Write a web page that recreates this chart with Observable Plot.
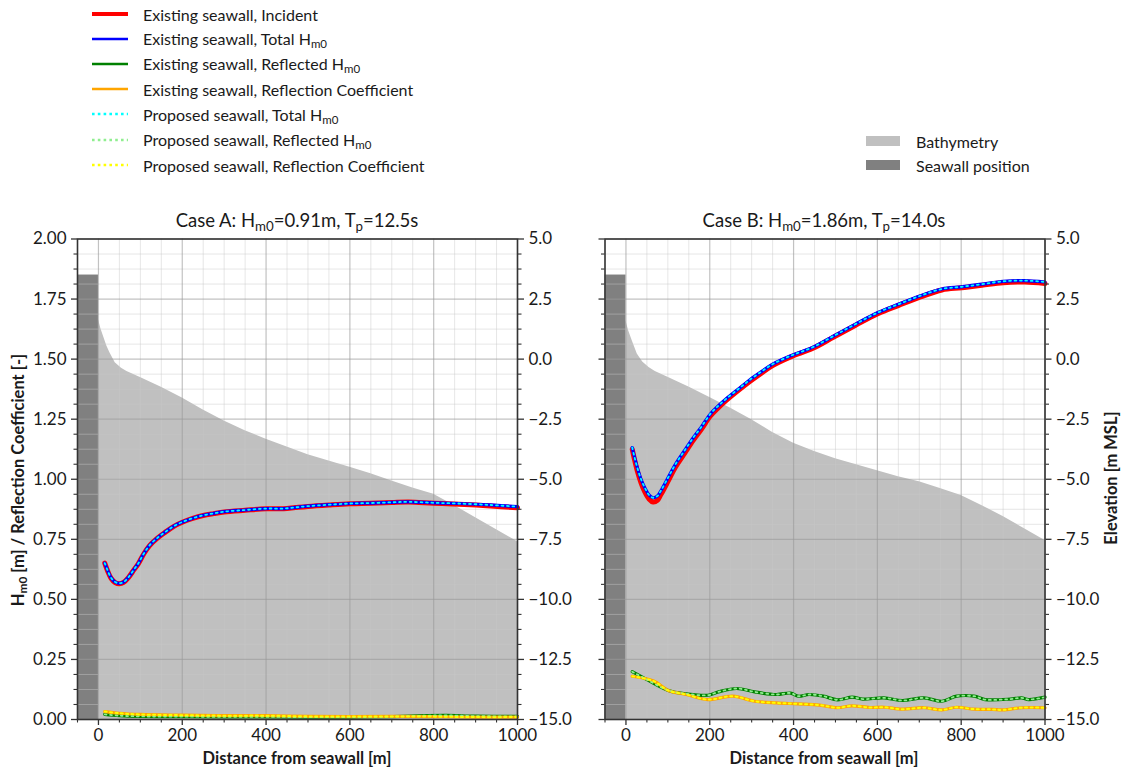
<!DOCTYPE html>
<html><head><meta charset="utf-8">
<script src="https://cdn.jsdelivr.net/npm/d3@7"></script>
<script src="https://cdn.jsdelivr.net/npm/@observablehq/plot@0.6"></script>
<style>
body{margin:0;background:#fff;font-family:Lato,"Noto Sans",sans-serif;color:#1a1a1a}
#root{position:relative;width:1125px;height:773px;overflow:hidden;background:#fff}
.abs{position:absolute;white-space:nowrap}
.sub{font-size:0.72em;vertical-align:-0.28em;line-height:0}
.leg{position:absolute;display:flex;align-items:center;font-size:16px;height:20px;white-space:nowrap}
.title{font-size:18.5px;transform:translate(-50%,-50%)}
.xlab{font-size:16.5px;font-weight:bold;transform:translate(-50%,-50%)}
.ylab{font-size:16.5px;font-weight:bold;transform:translate(-50%,-50%) rotate(-90deg)}
svg{overflow:visible}
</style></head>
<body><div id="root"></div>
<script>
// ---------------- data ----------------
const xDomain = [-50, 1000];
const hDomain = [0, 2];
const elevDomain = [-15, 5];
const xTicks = [0, 200, 400, 600, 800, 1000];
const hTicks = [0, 0.25, 0.5, 0.75, 1.0, 1.25, 1.5, 1.75, 2.0];
const elevTicks = [-15, -12.5, -10, -7.5, -5, -2.5, 0, 2.5, 5];

const seawall = [{from: -50, to: 0, base: -15, top: 3.5}];

const bathyA = [[0,1.65],[6,1.25],[13,0.9],[20,0.55],[27,0.28],[40,-0.15],[55,-0.38],[68,-0.51],[100,-0.76],[150,-1.17],[200,-1.62],[250,-2.12],[300,-2.58],[350,-2.98],[400,-3.33],[450,-3.66],[500,-3.98],[550,-4.24],[600,-4.5],[650,-4.77],[700,-5.07],[750,-5.36],[800,-5.62],[850,-6.1],[900,-6.6],[950,-7.1],[1000,-7.6]];
const bathyB = [[0,1.6],[6,1.2],[15,0.76],[27,0.21],[40,-0.12],[55,-0.35],[70,-0.51],[100,-0.75],[150,-1.16],[200,-1.6],[250,-2.04],[300,-2.52],[350,-3.05],[400,-3.5],[450,-3.85],[500,-4.15],[550,-4.4],[600,-4.65],[650,-4.9],[700,-5.1],[750,-5.38],[800,-5.68],[850,-6.1],[900,-6.55],[950,-7.05],[1000,-7.55]];

const incidentA = [[15,0.651],[22,0.618],[30,0.588],[40,0.57],[50,0.565],[60,0.571],[72,0.592],[85,0.624],[95,0.648],[108,0.689],[122,0.724],[140,0.754],[159,0.779],[180,0.804],[200,0.821],[225,0.837],[250,0.849],[275,0.857],[300,0.864],[350,0.871],[400,0.877],[442,0.877],[470,0.882],[500,0.887],[550,0.893],[600,0.898],[650,0.9],[700,0.903],[740,0.905],[800,0.9],[860,0.896],[935,0.889],[1000,0.881]];
const totalA = [[15,0.651],[22,0.62],[30,0.59],[40,0.572],[50,0.567],[60,0.572],[72,0.593],[85,0.625],[95,0.649],[108,0.69],[122,0.725],[140,0.755],[159,0.78],[180,0.805],[200,0.822],[225,0.838],[250,0.85],[275,0.858],[300,0.865],[350,0.872],[400,0.878],[442,0.878],[470,0.883],[500,0.888],[550,0.894],[600,0.899],[650,0.901],[700,0.904],[740,0.906],[800,0.902],[860,0.899],[935,0.893],[1000,0.886]];
const reflectedA = [[15,0.021],[50,0.016],[100,0.013],[200,0.012],[300,0.011],[400,0.011],[500,0.01],[600,0.01],[700,0.012],[780,0.016],[830,0.017],[900,0.014],[1000,0.013]];
const coefA = [[15,0.033],[50,0.026],[100,0.021],[200,0.018],[300,0.016],[400,0.016],[500,0.013],[600,0.012],[700,0.013],[800,0.012],[900,0.01],[1000,0.01]];
const pTotalA = totalA;
const pReflectedA = reflectedA;
const pCoefA = coefA;

const incidentB = [[15,1.125],[20,1.085],[27,1.035],[36,0.985],[45,0.947],[55,0.918],[65,0.905],[75,0.912],[83,0.935],[100,0.99],[118,1.05],[140,1.108],[161,1.163],[180,1.208],[201,1.262],[220,1.297],[238,1.326],[270,1.372],[298,1.41],[325,1.444],[350,1.473],[393,1.509],[445,1.544],[496,1.592],[548,1.641],[601,1.689],[651,1.724],[703,1.759],[754,1.788],[801,1.797],[849,1.807],[900,1.818],[952,1.821],[1000,1.815]];
const totalB = [[15,1.132],[20,1.095],[27,1.049],[36,1.0],[45,0.965],[55,0.935],[65,0.923],[75,0.93],[83,0.951],[100,1.005],[118,1.062],[140,1.12],[161,1.174],[180,1.218],[201,1.271],[220,1.305],[238,1.333],[270,1.378],[298,1.417],[325,1.45],[350,1.479],[393,1.514],[445,1.549],[496,1.597],[548,1.646],[601,1.694],[651,1.729],[703,1.764],[754,1.792],[801,1.801],[849,1.812],[900,1.824],[952,1.827],[1000,1.821]];
const reflectedB = [[15,0.199],[49,0.167],[101,0.121],[144,0.107],[195,0.101],[221,0.115],[264,0.129],[307,0.115],[359,0.104],[393,0.11],[411,0.097],[437,0.104],[471,0.097],[505,0.082],[540,0.093],[565,0.085],[616,0.09],[660,0.079],[711,0.09],[754,0.076],[789,0.097],[831,0.097],[857,0.083],[917,0.085],[944,0.09],[961,0.083],[1000,0.093]];
const coefB = [[15,0.18],[66,0.16],[101,0.121],[144,0.104],[195,0.083],[255,0.097],[307,0.076],[359,0.069],[410,0.065],[462,0.06],[505,0.049],[539,0.057],[582,0.05],[616,0.051],[660,0.043],[711,0.049],[754,0.04],[789,0.051],[831,0.043],[874,0.042],[900,0.04],[944,0.049],[1000,0.049]];
const pTotalB = totalB;
const pReflectedB = reflectedB;
const pCoefB = coefB;

const seriesKeys = ["incident","total","reflected","coef","pTotal","pReflected","pCoef"];
const seriesNames = ["Existing seawall, Incident","Existing seawall, Total H_m0","Existing seawall, Reflected H_m0","Existing seawall, Reflection Coefficient","Proposed seawall, Total H_m0","Proposed seawall, Reflected H_m0","Proposed seawall, Reflection Coefficient"];
const areaNames = ["Bathymetry","Seawall position"];

// ---------------- styles ----------------
const styles = {
  incident:{stroke:"#ff0000",strokeWidth:5},
  total:{stroke:"#0000ff",strokeWidth:3.2},
  reflected:{stroke:"#008000",strokeWidth:3.2},
  coef:{stroke:"#ffa500",strokeWidth:3.2},
  pTotal:{stroke:"#00ffff",strokeWidth:1.8,strokeDasharray:"1.8,3.6"},
  pReflected:{stroke:"#90ee90",strokeWidth:1.8,strokeDasharray:"1.8,3.6"},
  pCoef:{stroke:"#ffff00",strokeWidth:2,strokeDasharray:"2,3.4"}
};
const bathyColor = "#c0c0c0", wallColor = "#808080", spine = "#333";

const rich = s => s.replace(/_(\w+)/g, '<span class="sub">$1</span>');
const toH = e => (e - elevDomain[0]) / (elevDomain[1] - elevDomain[0]) * (hDomain[1] - hDomain[0]) + hDomain[0];
const toElev = h => (h - hDomain[0]) / (hDomain[1] - hDomain[0]) * (elevDomain[1] - elevDomain[0]) + elevDomain[0];
const fmt1 = d3.format(".1f"), fmt2 = d3.format(".2f");
const pts = arr => arr.map(([x, y]) => ({x, y}));

const minorX = d3.range(xDomain[0], xDomain[1] + 1, 50).filter(v => !xTicks.includes(v));
const minorH = d3.range(hDomain[0], hDomain[1] + 1e-9, 0.0625).filter(v => Math.abs(v / 0.25 - Math.round(v / 0.25)) > 1e-6);
const minorElev = d3.range(elevDomain[0], elevDomain[1] + 1e-9, 0.625).filter(v => Math.abs(v / 2.5 - Math.round(v / 2.5)) > 1e-6);

function panel(cfg) {
  const lineMarks = seriesKeys.map(k => Plot.line(pts(cfg.series[k]), {x: "x", y: "y", curve: "catmull-rom", ...styles[k]}));
  return Plot.plot({
    width: cfg.width, height: 573,
    marginLeft: cfg.ml, marginRight: cfg.mr, marginTop: 38.5, marginBottom: 54,
    x: {domain: xDomain}, y: {domain: hDomain},
    style: {fontFamily: "Lato, 'Noto Sans', sans-serif", fontSize: "17px", color: "#1a1a1a", background: "transparent"},
    marks: [
      Plot.areaY(pts(cfg.bathy), {x: "x", y: d => toH(d.y), fill: bathyColor}),
      Plot.rect(seawall, {x1: "from", x2: "to", y1: d => toH(d.base), y2: d => toH(d.top), fill: wallColor}),
      Plot.gridX(minorX, {stroke: "#c8c8c8", strokeOpacity: 0.45, strokeWidth: 1}),
      Plot.gridY(minorH, {stroke: "#c8c8c8", strokeOpacity: 0.45, strokeWidth: 1}),
      Plot.gridX(xTicks, {stroke: "#9a9a9a", strokeOpacity: 0.6, strokeWidth: 1.2}),
      Plot.gridY(hTicks, {stroke: "#9a9a9a", strokeOpacity: 0.6, strokeWidth: 1.2}),
      ...lineMarks,
      Plot.frame({stroke: spine, strokeWidth: 1.6}),
      Plot.axisX(xTicks, {anchor: "bottom", tickSize: 6, tickPadding: 3, tickFormat: d3.format("d"), label: null, stroke: spine, strokeWidth: 1.3}),
      Plot.axisX(minorX, {anchor: "bottom", tickSize: 3.5, tickFormat: () => "", label: null, stroke: spine, strokeWidth: 1.1}),
      Plot.axisY(hTicks, {anchor: "left", tickSize: 6, tickPadding: 5, tickFormat: cfg.leftLabels ? fmt2 : () => "", label: null, stroke: spine, strokeWidth: 1.3}),
      Plot.axisY(minorH, {anchor: "left", tickSize: 3.5, tickFormat: () => "", label: null, stroke: spine, strokeWidth: 1.1}),
      Plot.axisY(elevTicks.map(toH), {anchor: "right", tickSize: 6, tickPadding: 5, tickFormat: v => fmt1(Math.round(toElev(v) * 10) / 10), label: null, stroke: spine, strokeWidth: 1.3}),
      Plot.axisY(minorElev.map(toH), {anchor: "right", tickSize: 3.5, tickFormat: () => "", label: null, stroke: spine, strokeWidth: 1.1})
    ]
  });
}

const root = document.getElementById("root");
function place(html, cls, left, top) {
  const d = document.createElement("div");
  d.className = "abs " + cls;
  d.style.left = left + "px"; d.style.top = top + "px";
  d.innerHTML = html;
  root.appendChild(d);
  return d;
}

// panels
const pA = panel({width: 560, ml: 77, mr: 43, leftLabels: true, bathy: bathyA,
  series: {incident: incidentA, total: totalA, reflected: reflectedA, coef: coefA, pTotal: pTotalA, pReflected: pReflectedA, pCoef: pCoefA}});
const wA = document.createElement("div"); wA.className = "abs"; wA.style.left = "0px"; wA.style.top = "200px"; wA.appendChild(pA); root.appendChild(wA);
const pB = panel({width: 565, ml: 44.5, mr: 80.5, leftLabels: false, bathy: bathyB,
  series: {incident: incidentB, total: totalB, reflected: reflectedB, coef: coefB, pTotal: pTotalB, pReflected: pReflectedB, pCoef: pCoefB}});
const wB = document.createElement("div"); wB.className = "abs"; wB.style.left = "560px"; wB.style.top = "200px"; wB.appendChild(pB); root.appendChild(wB);

// titles and axis labels
place("Case A: H_m0=0.91m, T_p=12.5s".replace(/_(\w+?)(?==)/g, '<span class="sub">$1</span>'), "title", 297, 220);
place("Case B: H_m0=1.86m, T_p=14.0s".replace(/_(\w+?)(?==)/g, '<span class="sub">$1</span>'), "title", 824, 220);
place("Distance from seawall [m]", "xlab", 297, 758);
place("Distance from seawall [m]", "xlab", 824, 758);
place(rich("H_m0 [m] / Reflection Coefficient [-]"), "ylab", 18, 480);
place("Elevation [m MSL]", "ylab", 1111, 478);

// legend (left)
const legY = [14, 38.5, 63.5, 89, 114, 139.5, 165];
seriesKeys.forEach((k, i) => {
  const s = styles[k];
  const row = document.createElement("div");
  row.className = "leg";
  row.style.left = "92px"; row.style.top = (legY[i] - 10) + "px";
  row.innerHTML = `<svg width="36" height="20" style="margin-right:15px"><line x1="0" x2="36" y1="10" y2="10" stroke="${s.stroke}" stroke-width="${k === 'incident' ? 4 : 2.6}" ${s.strokeDasharray ? 'stroke-dasharray="2.6,3.2"' : ''}/></svg><span>${rich(seriesNames[i])}</span>`;
  root.appendChild(row);
});
// legend (right)
[bathyColor, wallColor].forEach((c, i) => {
  const row = document.createElement("div");
  row.className = "leg";
  row.style.left = "866px"; row.style.top = (141 + i * 24 - 10) + "px";
  row.innerHTML = `<svg width="34" height="20" style="margin-right:16px"><rect x="0" y="5" width="34" height="10" fill="${c}"/></svg><span>${areaNames[i]}</span>`;
  root.appendChild(row);
});
</script>
</body></html>
